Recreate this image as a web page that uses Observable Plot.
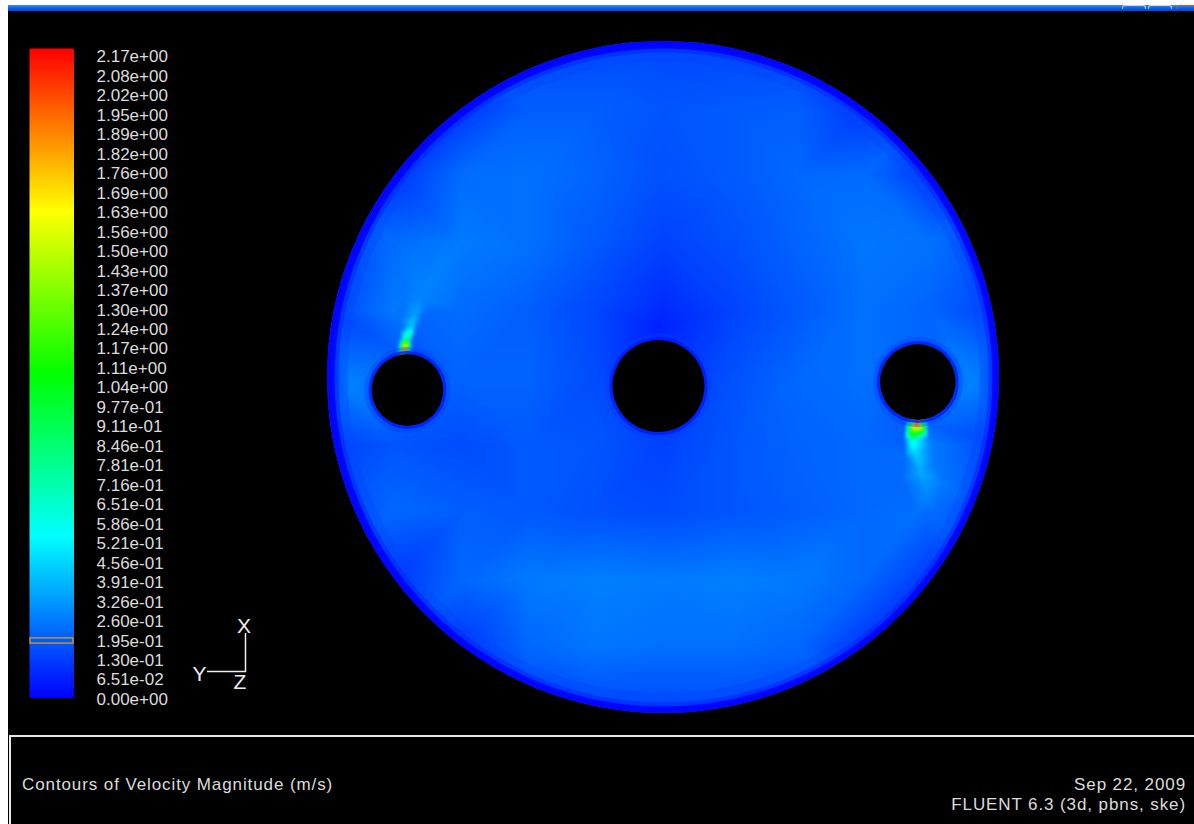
<!DOCTYPE html>
<html>
<head>
<meta charset="utf-8">
<script src="https://cdn.jsdelivr.net/npm/d3@7"></script>
<script src="https://cdn.jsdelivr.net/npm/@observablehq/plot@0.6"></script>
<style>
  html, body { margin: 0; padding: 0; background: #ffffff; }
  #page { position: relative; width: 1194px; height: 824px; overflow: hidden; background: #ffffff;
          font-family: "Liberation Sans", Arial, sans-serif; }
  .abs { position: absolute; }
  #topbar { left: 8px; top: 5px; width: 1186px; height: 6px;
            background: linear-gradient(#3f8cf8, #0a5ef0 50%, #0047d6); }
  .btn { top: 5px; height: 3px; border: 1px solid #c8d4ee; border-bottom: none; border-radius: 3px 3px 0 0; }
  #main { left: 8px; top: 11px; width: 1186px; height: 813px; background: #000; }
  #hline { left: 9px; top: 735px; width: 1185px; height: 1.5px; background: #e8e8e8; }
  #vline { left: 9px; top: 735px; width: 1.5px; height: 89px; background: #e8e8e8; }
  #disk { left: 327px; top: 41px; width: 672px; height: 672px; border-radius: 50%; overflow: hidden; }
  #bar { left: 29px; top: 48px; width: 45px; height: 650px; border-radius: 3px; overflow: hidden; }
  #labels { left: 90px; top: 40px; }
  .cap { color: #dcdcdc; font-size: 17px; line-height: 20px; letter-spacing: 0.9px; white-space: nowrap; }
  svg { display: block; }
</style>
</head>
<body>
<div id="page">
  <div id="main" class="abs"></div>
  <div id="topbar" class="abs"></div>
  <div class="abs btn" style="left:1122px;width:22px;"></div>
  <div class="abs btn" style="left:1148px;width:22px;"></div>
  <div class="abs btn" style="left:1177px;width:22px;border-color:#d0532a;"></div>
  <div id="hline" class="abs"></div>
  <div id="vline" class="abs"></div>
  <div id="disk" class="abs"></div>
  <div id="bar" class="abs"></div>
  <div id="labels" class="abs"></div>
  <svg class="abs" style="left:185px;top:605px" width="80" height="95">
    <g stroke="#eeeeee" stroke-width="1.5" fill="none">
      <line x1="60.5" y1="28" x2="60.5" y2="67"></line>
      <line x1="22" y1="66.5" x2="61" y2="66.5"></line>
    </g>
    <g fill="#eeeeee" font-family="Liberation Sans, Arial, sans-serif" font-size="21" text-anchor="middle" dominant-baseline="central">
      <text x="59" y="20">X</text>
      <text x="14.5" y="68.5">Y</text>
      <text x="55" y="76">Z</text>
    </g>
  </svg>
  <div class="abs cap" style="left:22px;top:775px;">Contours of Velocity Magnitude (m/s)</div>
  <div class="abs cap" style="right:8px;top:775px;text-align:right;">Sep 22, 2009</div>
  <div class="abs cap" style="right:8px;top:795px;text-align:right;">FLUENT 6.3 (3d, pbns, ske)</div>
</div>
<script>
// ---------- data ----------
const vMax = 2.17;
const tickLabels = ["2.17e+00","2.08e+00","2.02e+00","1.95e+00","1.89e+00","1.82e+00","1.76e+00",
  "1.69e+00","1.63e+00","1.56e+00","1.50e+00","1.43e+00","1.37e+00","1.30e+00","1.24e+00",
  "1.17e+00","1.11e+00","1.04e+00","9.77e-01","9.11e-01","8.46e-01","7.81e-01","7.16e-01",
  "6.51e-01","5.86e-01","5.21e-01","4.56e-01","3.91e-01","3.26e-01","2.60e-01","1.95e-01",
  "1.30e-01","6.51e-02","0.00e+00"];
const colormapStops = ["#0000ff", "#00ffff", "#00ff00", "#ffff00", "#ff0000"];
const markedLow = [0.180];
const markedHigh = [0.204];

// velocity samples on a coarse grid (r/R units)
const gridU = [-1, -0.8, -0.6, -0.4, -0.2, 0, 0.2, 0.4, 0.6, 0.8, 1];
const gridV = [1, 0.8, 0.6, 0.4, 0.2, 0, -0.2, -0.4, -0.6, -0.8, -1];
const gridValues = [
  [0.15, 0.15, 0.15, 0.15, 0.15, 0.15, 0.15, 0.15, 0.15, 0.15, 0.15],
  [0.15, 0.15, 0.12, 0.20, 0.20, 0.18, 0.19, 0.20, 0.12, 0.15, 0.15],
  [0.15, 0.12, 0.23, 0.24, 0.21, 0.17, 0.19, 0.22, 0.23, 0.12, 0.15],
  [0.15, 0.23, 0.26, 0.24, 0.19, 0.14, 0.17, 0.21, 0.25, 0.24, 0.15],
  [0.14, 0.26, 0.23, 0.20, 0.15, 0.09, 0.14, 0.19, 0.24, 0.21, 0.14],
  [0.14, 0.20, 0.21, 0.21, 0.16, 0.12, 0.17, 0.22, 0.24, 0.22, 0.14],
  [0.14, 0.18, 0.16, 0.19, 0.18, 0.14, 0.18, 0.21, 0.22, 0.26, 0.14],
  [0.15, 0.22, 0.20, 0.19, 0.17, 0.16, 0.18, 0.20, 0.22, 0.23, 0.15],
  [0.15, 0.12, 0.22, 0.26, 0.27, 0.26, 0.27, 0.26, 0.22, 0.12, 0.15],
  [0.15, 0.15, 0.12, 0.22, 0.25, 0.24, 0.24, 0.22, 0.12, 0.15, 0.15],
  [0.15, 0.15, 0.15, 0.15, 0.15, 0.15, 0.15, 0.15, 0.15, 0.15, 0.15]
];
// extra samples: jets at the small holes and local extremes
const spotX = [-0.771, -0.768, -0.765, -0.759, -0.753, -0.747, -0.738, -0.723,
               -0.790, -0.748, -0.786, -0.750, -0.783, -0.735, -0.780, -0.720, -0.768, -0.699,
                0.753,  0.765,  0.741,  0.747,  0.735,  0.759,  0.741,  0.750,  0.765,  0.783,
                0.720,  0.786,  0.714,  0.789,  0.720,  0.801,  0.708,  0.839,  0.753,
               -0.932,  0.929, -0.015];
const spotY = [ 0.080,  0.092,  0.107,  0.122,  0.140,  0.160,  0.190,  0.240,
                0.085,  0.085,  0.110,  0.110,  0.140,  0.140,  0.179,  0.179,  0.232,  0.208,
               -0.140, -0.146, -0.149, -0.164, -0.173, -0.170, -0.194, -0.226, -0.280, -0.336,
               -0.137, -0.143, -0.176, -0.176, -0.240, -0.255, -0.307, -0.321, -0.396,
               -0.024, -0.015,  0.155];
const spotV = [ 2.15,   1.90,   1.20,   0.80,   0.55,   0.42,   0.34,   0.28,
                0.20,   0.18,   0.22,   0.20,   0.23,   0.21,   0.24,   0.22,   0.25,   0.24,
                2.10,   1.70,   1.50,   1.15,   0.95,   0.90,   0.60,   0.45,   0.36,   0.30,
                0.20,   0.22,   0.20,   0.24,   0.23,   0.26,   0.22,   0.25,   0.24,
                0.28,   0.28,   0.07];
// holes (centre, left, right)
const holeX = [-0.0149, -0.762, 0.757];
const holeY = [-0.0253, -0.0372, -0.0134];
const holeR = [0.137, 0.107, 0.113];
// wall boundary-layer velocities
const wallValues = [0.01, 0.08, 0.14];
const holeWallValues = [0.05, 0.12];

// ---------- build ----------
const rainbow = d3.piecewise(d3.interpolateRgb, colormapStops);
const colorScale = {type: "linear", domain: [0, vMax], interpolate: rainbow};

const points = [];
gridV.forEach((v, i) => gridU.forEach((u, j) => points.push({x: u, y: v, v: gridValues[i][j]})));
spotX.forEach((x, i) => points.push({x, y: spotY[i], v: spotV[i]}));
const holes = holeX.map((x, i) => ({x, y: holeY[i], r: holeR[i]}));

const size = 672;
const k = size / 2; // px per unit radius
const center = [{x: 0, y: 0}];

const diskMarks = [
  Plot.raster(points, {x: "x", y: "y", fill: "v", interpolate: "barycentric",
    x1: -1, y1: -1, x2: 1, y2: 1, blur: 1}),
  Plot.dot(center, {x: "x", y: "y", r: k - 13, stroke: () => wallValues[2], strokeWidth: 14, strokeOpacity: 0.3}),
  Plot.dot(center, {x: "x", y: "y", r: k - 8.5, stroke: () => wallValues[1], strokeWidth: 5, strokeOpacity: 0.6}),
  Plot.dot(center, {x: "x", y: "y", r: k - 3, stroke: () => wallValues[0], strokeWidth: 8})
];
holes.forEach(h => {
  diskMarks.push(Plot.dot([h], {x: "x", y: "y", r: h.r * k + 4, stroke: () => holeWallValues[1], strokeWidth: 6, strokeOpacity: 0.35}));
  diskMarks.push(Plot.dot([h], {x: "x", y: "y", r: h.r * k + 1.5, stroke: () => holeWallValues[0], strokeWidth: 3, strokeOpacity: 0.8}));
  diskMarks.push(Plot.dot([h], {x: "x", y: "y", r: h.r * k, fill: "black"}));
});

const disk = Plot.plot({
  width: size, height: size, margin: 0,
  style: {background: "transparent"},
  x: {domain: [-1, 1], axis: null},
  y: {domain: [-1, 1], axis: null},
  color: colorScale,
  marks: diskMarks
});
document.getElementById("disk").append(disk);

const bar = Plot.plot({
  width: 45, height: 650, margin: 0,
  style: {background: "transparent"},
  x: {domain: [0, 1], axis: null},
  y: {domain: [0, vMax], axis: null},
  color: colorScale,
  marks: [
    Plot.raster({fill: (x, y) => y, x1: 0, x2: 1, y1: 0, y2: vMax}),
    Plot.rect(markedLow.map((lo, i) => ({lo, hi: markedHigh[i]})),
      {x1: 0, x2: 1, y1: "lo", y2: "hi", stroke: "#c8902a", strokeWidth: 1.5, fill: "none", inset: 1})
  ]
});
document.getElementById("bar").append(bar);

const labels = Plot.plot({
  width: 110, height: 680, margin: 0,
  style: {background: "transparent", fontFamily: "Liberation Sans, Arial, sans-serif"},
  x: {domain: [0, 1], range: [6, 100], axis: null},
  y: {domain: [0, tickLabels.length - 1], range: [16.5, 659], axis: null},
  marks: [
    Plot.text(tickLabels, {x: 0, y: (d, i) => i, text: d => d, textAnchor: "start",
      fill: "#dcdcdc", fontSize: 17})
  ]
});
document.getElementById("labels").append(labels);
</script>
</body>
</html>
